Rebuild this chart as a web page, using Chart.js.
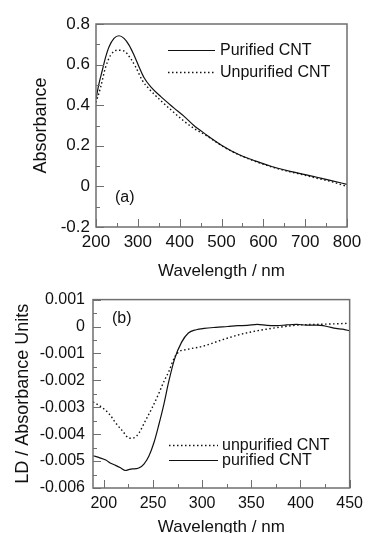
<!DOCTYPE html>
<html>
<head>
<meta charset="utf-8">
<script src="https://cdn.jsdelivr.net/npm/chart.js@4.4.0/dist/chart.umd.min.js"></script>
<style>
  html, body { margin: 0; padding: 0; background: #fff; overflow: hidden; }
  #wrapA { position: absolute; left: 0; top: 0; width: 369px; height: 282px; }
  #wrapB { position: absolute; left: 0; top: 282px; width: 369px; height: 259px; }
</style>
</head>
<body>
<div id="wrapA"><canvas id="chartA" width="369" height="282"></canvas></div>
<div id="wrapB"><canvas id="chartB" width="369" height="259"></canvas></div>
<script>
// ---- panel (a): absorbance ----
const wlPurifiedA = [200, 207, 215, 223, 231, 243, 255, 267, 279, 291, 303, 315, 331, 355, 386, 410, 434, 460, 504, 540, 584, 620, 664, 700, 728, 760, 800];
const absPurified = [0.43, 0.505, 0.571, 0.637, 0.687, 0.729, 0.742, 0.729, 0.696, 0.646, 0.588, 0.535, 0.49, 0.442, 0.387, 0.346, 0.300, 0.26, 0.198, 0.158, 0.123, 0.098, 0.074, 0.058, 0.045, 0.03, 0.01];
const wlUnpurifiedA = [200, 211, 223, 235, 251, 267, 283, 295, 311, 327, 355, 382, 410, 434, 460, 504, 540, 584, 620, 664, 700, 728, 760, 800];
const absUnpurified = [0.413, 0.488, 0.588, 0.646, 0.671, 0.667, 0.629, 0.588, 0.521, 0.48, 0.422, 0.372, 0.322, 0.286, 0.255, 0.196, 0.157, 0.121, 0.096, 0.072, 0.055, 0.04, 0.025, 0.0];
const xTicksA = [200, 300, 400, 500, 600, 700, 800];
const yTicksA = [-0.2, 0, 0.2, 0.4, 0.6, 0.8];

// ---- panel (b): linear dichroism ----
const wlUnpurifiedB = [189, 199, 206, 212, 219, 226, 231, 236, 242, 249, 256, 261, 266, 272, 276, 285, 300, 320, 336, 350, 365, 380, 396, 416, 436, 450];
const ldUnpurified = [-0.0028, -0.00303, -0.00327, -0.00358, -0.00388, -0.00415, -0.00413, -0.00394, -0.00352, -0.00303, -0.00248, -0.00205, -0.00168, -0.00114, -0.00095, -0.00085, -0.00074, -0.0005, -0.00032, -0.0002, -0.0001, -0.00002, 0.00005, 0.00008, 0.0001, 0.00012];
const wlPurifiedB = [189, 196, 202, 207, 212, 217, 222, 226, 229, 233, 236, 241, 246, 251, 256, 261, 266, 272, 279, 286, 294, 302, 314, 326, 336, 346, 356, 366, 376, 386, 396, 406, 416, 426, 436, 443, 450];
const ldPurified = [-0.0048, -0.00488, -0.00496, -0.00508, -0.00516, -0.00525, -0.00535, -0.00531, -0.00529, -0.00528, -0.00525, -0.0051, -0.0048, -0.00431, -0.00364, -0.0029, -0.00205, -0.0012, -0.00059, -0.00024, -0.00012, -0.00007, -0.00003, 0, 0.00003, 0.00004, 0.00008, 0.00004, 0.00003, 0.00006, 0.00008, 0.00005, 0.00005, 0.00001, -0.00007, -0.0001, -0.00016];
const xTicksB = [200, 250, 300, 350, 400, 450];
const yTicksB = [-0.006, -0.005, -0.004, -0.003, -0.002, -0.001, 0, 0.001];

const FONT = "'Liberation Sans', Arial, sans-serif";
const FRAME = "#6f6f6f";
const INK = "#111";

function pts(xs, ys) {
  return xs.map((x, i) => ({ x: x, y: ys[i] }));
}

// box round the plot area + inward major/minor ticks
const frameTicks = {
  id: "frameTicks",
  afterDraw(chart, args, opts) {
    const ctx = chart.ctx;
    const a = chart.chartArea;
    const xs = chart.scales.x;
    const ys = chart.scales.y;
    ctx.save();
    ctx.strokeStyle = FRAME;
    ctx.lineWidth = 1.5;
    ctx.strokeRect(a.left, a.top, a.right - a.left, a.bottom - a.top);
    ctx.lineWidth = 1;
    ctx.beginPath();
    let start = Math.ceil(xs.min / opts.xMinor - 1e-9);
    for (let k = start; k * opts.xMinor <= xs.max + 1e-9; k++) {
      const v = k * opts.xMinor;
      const major = Math.abs(v / opts.xMajor - Math.round(v / opts.xMajor)) < 1e-6;
      const px = Math.round(xs.getPixelForValue(v)) + 0.5;
      ctx.moveTo(px, a.bottom);
      ctx.lineTo(px, a.bottom - (major ? opts.majorLen : opts.minorLen));
    }
    start = Math.ceil(ys.min / opts.yMinor - 1e-9);
    for (let k = start; k * opts.yMinor <= ys.max + 1e-9; k++) {
      const v = k * opts.yMinor;
      const major = Math.abs(v / opts.yMajor - Math.round(v / opts.yMajor)) < 1e-6;
      const py = Math.round(ys.getPixelForValue(v)) + 0.5;
      ctx.moveTo(a.left, py);
      ctx.lineTo(a.left + (major ? opts.majorLen : opts.minorLen), py);
    }
    ctx.stroke();
    ctx.restore();
  }
};

// legend inside the plot + panel letter
const innerLegend = {
  id: "innerLegend",
  afterDraw(chart, args, opts) {
    const ctx = chart.ctx;
    const a = chart.chartArea;
    ctx.save();
    ctx.font = opts.size + "px " + FONT;
    ctx.fillStyle = INK;
    ctx.textBaseline = "middle";
    ctx.textAlign = "left";
    chart.data.datasets.forEach((ds, i) => {
      const y = Math.round(a.top + opts.top + i * opts.gap) + 0.5;
      ctx.strokeStyle = ds.borderColor;
      ctx.lineWidth = ds.borderWidth;
      ctx.setLineDash(ds.borderDash || []);
      ctx.beginPath();
      ctx.moveTo(a.left + opts.lineFrom, y);
      ctx.lineTo(a.left + opts.lineTo, y);
      ctx.stroke();
      ctx.fillText(ds.label, a.left + opts.textAt, y);
    });
    ctx.setLineDash([]);
    ctx.fillText(opts.panel, a.left + opts.panelX, a.top + opts.panelY);
    ctx.restore();
  }
};

function fixedTicks(values) {
  return function (scale) {
    scale.ticks = values.map((v) => ({ value: v }));
  };
}

function makeChart(id, cfg) {
  return new Chart(document.getElementById(id), {
    type: "line",
    data: { datasets: cfg.datasets },
    options: {
      responsive: false,
      animation: false,
      events: [],
      layout: { padding: cfg.padding },
      elements: { point: { radius: 0 } },
      plugins: {
        legend: { display: false },
        tooltip: { enabled: false },
        frameTicks: cfg.ticks,
        innerLegend: cfg.legend
      },
      scales: {
        x: {
          type: "linear",
          min: cfg.xMin,
          max: cfg.xMax,
          afterBuildTicks: fixedTicks(cfg.xTicks),
          afterFit(scale) { scale.height = cfg.xHeight; },
          grid: { display: false, drawTicks: false },
          border: { display: false },
          ticks: {
            padding: cfg.xPad,
            color: INK,
            font: { family: FONT, size: cfg.tickSize },
            maxRotation: 0,
            callback: (v) => String(v)
          },
          title: {
            display: true,
            text: "Wavelength / nm",
            color: INK,
            font: { family: FONT, size: 17 },
            padding: { top: 0, bottom: cfg.xTitlePad }
          }
        },
        y: {
          type: "linear",
          min: cfg.yMin,
          max: cfg.yMax,
          afterBuildTicks: fixedTicks(cfg.yTicks),
          afterFit(scale) { scale.width = cfg.yWidth; },
          grid: { display: false, drawTicks: false },
          border: { display: false },
          ticks: {
            padding: cfg.yPad,
            color: INK,
            font: { family: cfg.yTickFont, size: cfg.tickSize },
            callback: (v) => String(v)
          },
          title: {
            display: true,
            text: cfg.yTitle,
            color: INK,
            font: { family: FONT, size: 18 },
            padding: { top: cfg.yTitlePad, bottom: 0 }
          }
        }
      }
    },
    plugins: [frameTicks, innerLegend]
  });
}

makeChart("chartA", {
  datasets: [
    {
      label: "Purified CNT",
      data: pts(wlPurifiedA, absPurified),
      borderColor: INK,
      borderWidth: 1.2,
      cubicInterpolationMode: "monotone"
    },
    {
      label: "Unpurified CNT",
      data: pts(wlUnpurifiedA, absUnpurified),
      borderColor: INK,
      borderWidth: 1.4,
      borderDash: [1.5, 2.5],
      cubicInterpolationMode: "monotone"
    }
  ],
  padding: { left: 0, right: 22, top: 24, bottom: 0 },
  xMin: 200, xMax: 800, xTicks: xTicksA,
  yMin: -0.2, yMax: 0.8, yTicks: yTicksA,
  xHeight: 55, yWidth: 96,
  xPad: 5, yPad: 6, xTitlePad: 0, yTitlePad: 30,
  tickSize: 17,
  yTickFont: FONT,
  yTitle: "Absorbance",
  ticks: { xMajor: 100, xMinor: 50, yMajor: 0.2, yMinor: 0.1, majorLen: 8, minorLen: 4 },
  legend: { size: 16, top: 26, gap: 21.5, lineFrom: 72, lineTo: 119, textAt: 124, panel: "(a)", panelX: 19, panelY: 174 }
});

makeChart("chartB", {
  datasets: [
    {
      label: "unpurified CNT",
      data: pts(wlUnpurifiedB, ldUnpurified),
      borderColor: INK,
      borderWidth: 1.4,
      borderDash: [1.5, 2.5],
      cubicInterpolationMode: "monotone"
    },
    {
      label: "purified CNT",
      data: pts(wlPurifiedB, ldPurified),
      borderColor: INK,
      borderWidth: 1.2,
      cubicInterpolationMode: "monotone"
    }
  ],
  padding: { left: 0, right: 16, top: 15, bottom: 0 },
  xMin: 189, xMax: 450, xTicks: xTicksB,
  yMin: -0.006, yMax: 0.001, yTicks: yTicksB,
  xHeight: 53, yWidth: 93,
  xPad: 6, yPad: 8, xTitlePad: 3, yTitlePad: 12,
  tickSize: 16,
  yTickFont: "'Liberation Sans Narrow', " + FONT,
  yTitle: "LD / Absorbance Units",
  ticks: { xMajor: 50, xMinor: 25, yMajor: 0.001, yMinor: 0.0005, majorLen: 8, minorLen: 4 },
  legend: { size: 16, top: 145, gap: 15, lineFrom: 76, lineTo: 125, textAt: 129, panel: "(b)", panelX: 19, panelY: 19 }
});
</script>
</body>
</html>
